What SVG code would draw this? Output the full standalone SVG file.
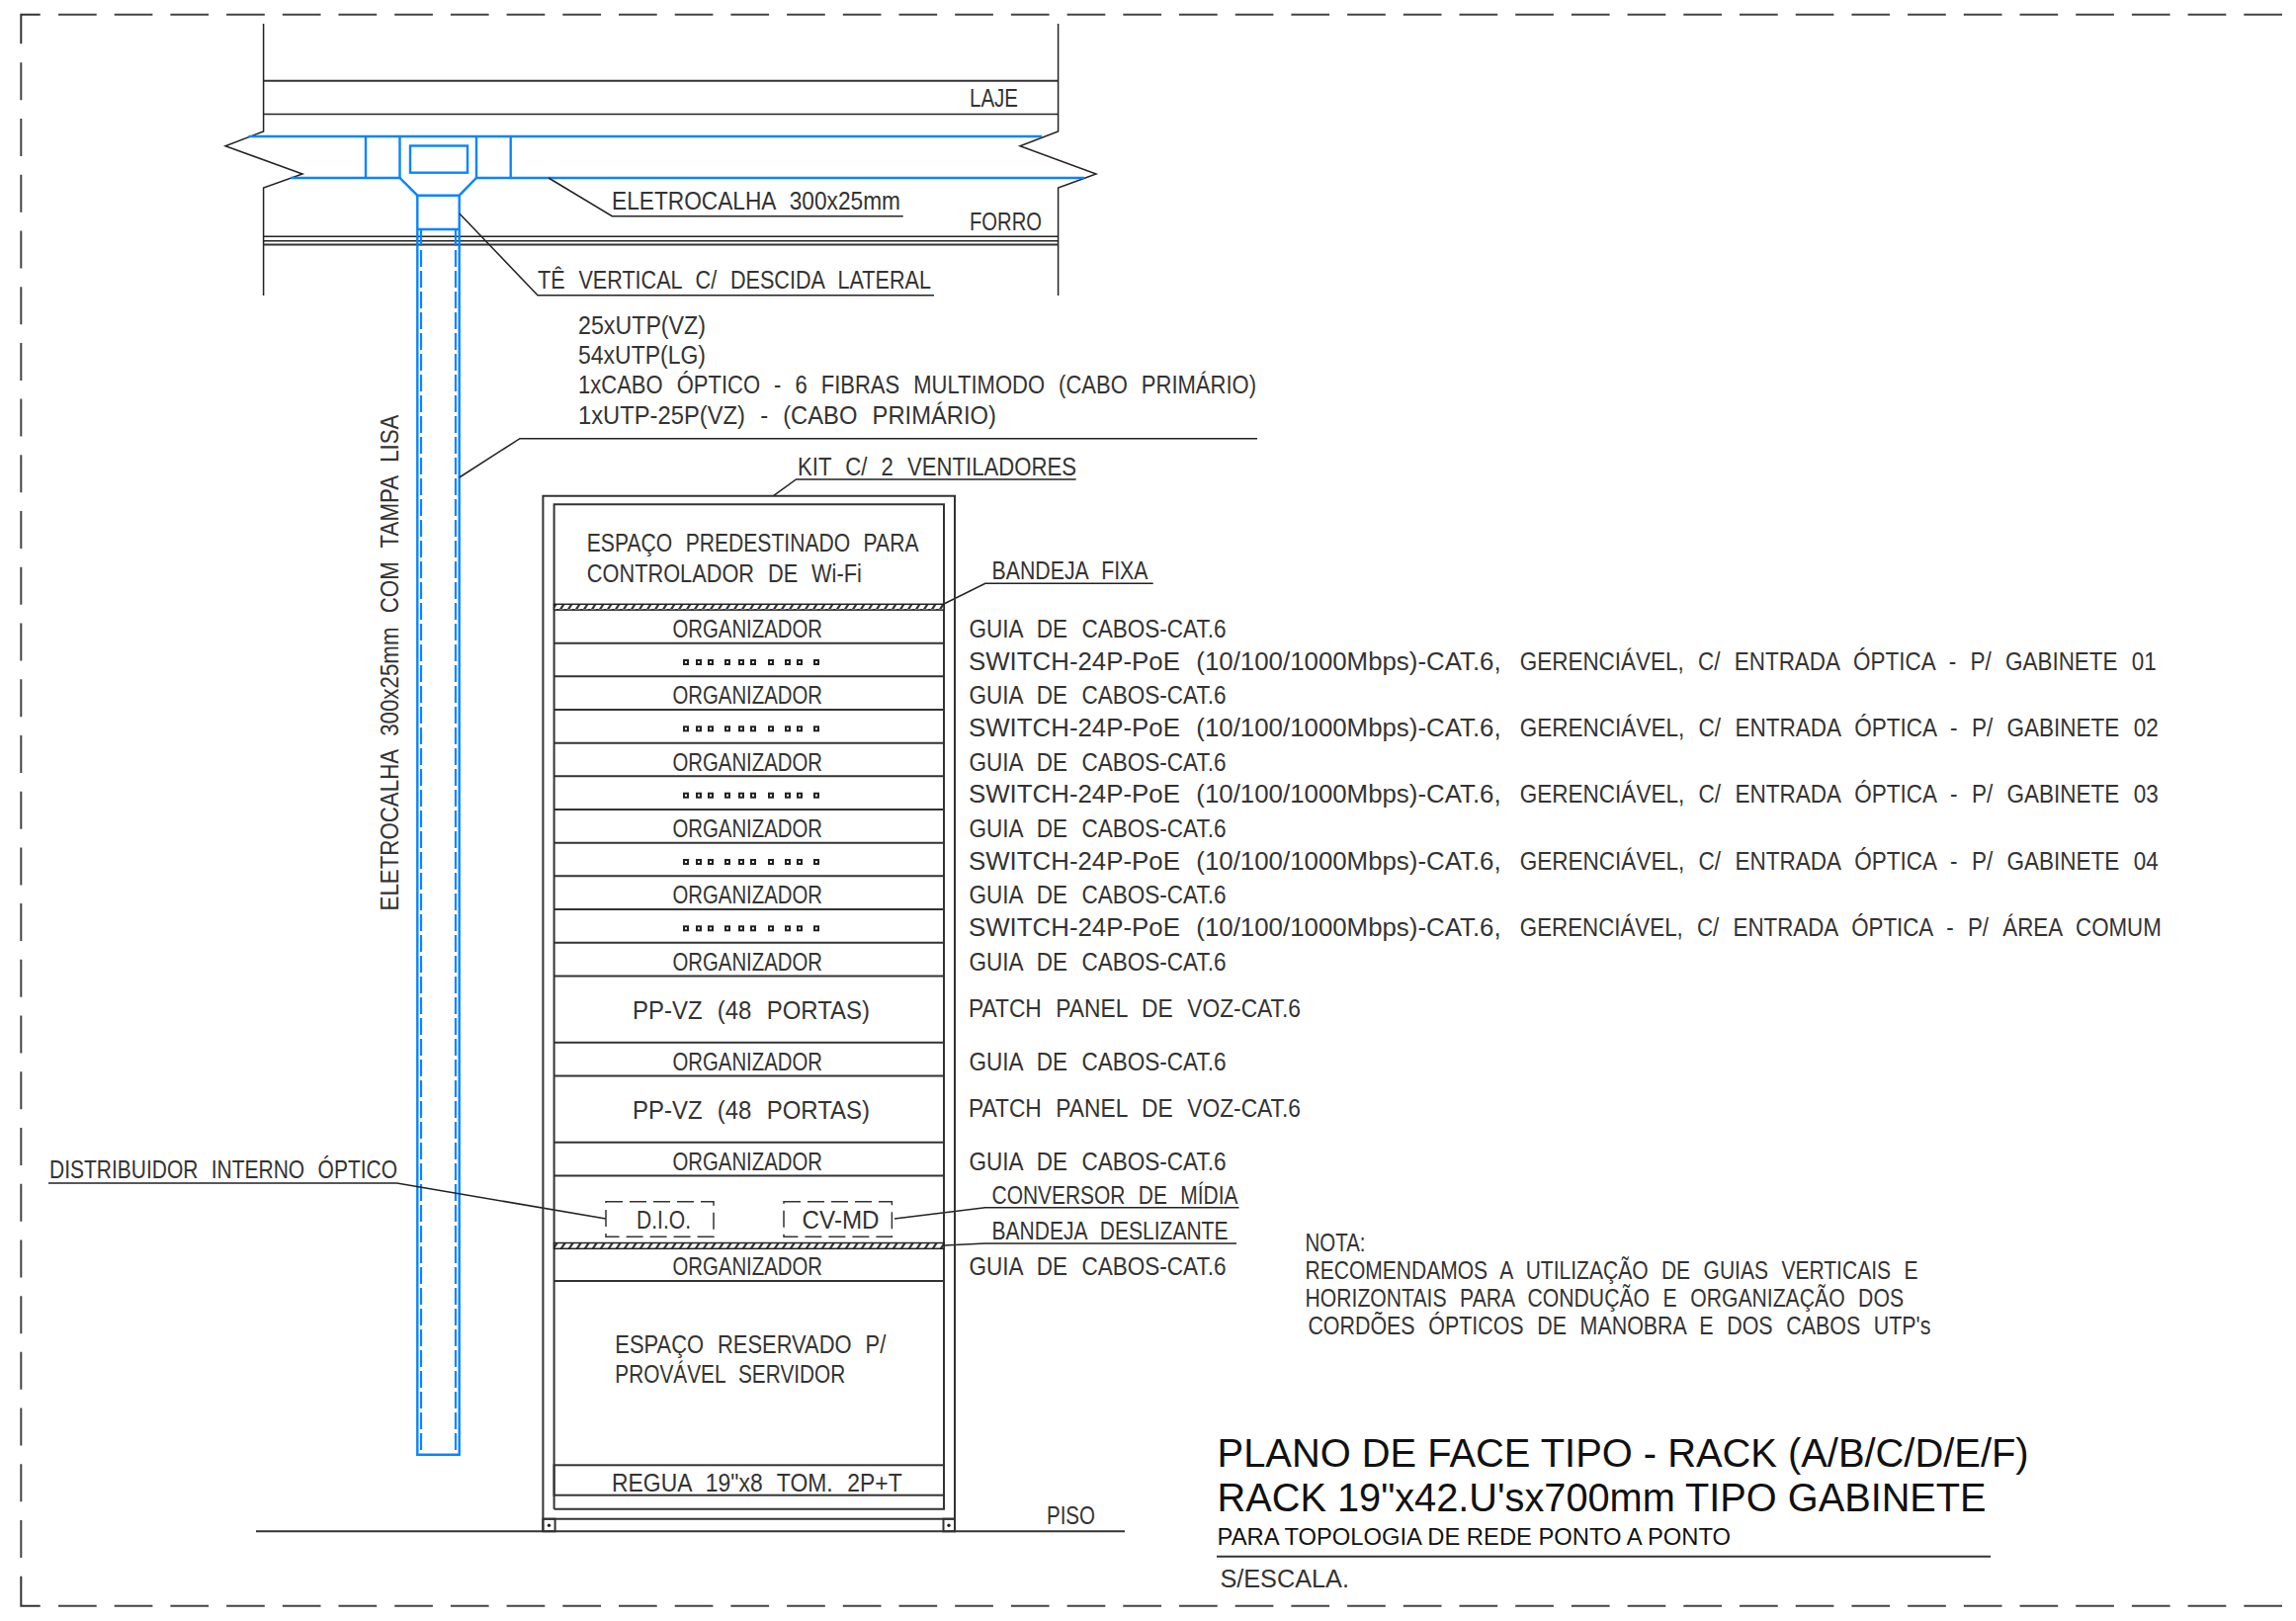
<svg xmlns="http://www.w3.org/2000/svg" width="2323" height="1640" viewBox="0 0 2323 1640">
<style>
.l{fill:none;stroke:#222;stroke-width:1.5}
.m{fill:none;stroke:#333;stroke-width:2}
.b{fill:none;stroke:#0a84ff;stroke-width:2.4}
.bd{fill:none;stroke:#0a84ff;stroke-width:2.2;stroke-dasharray:17 4}
.bf{fill:none;stroke:#444;stroke-width:2;stroke-dasharray:38.7 18}
.bv{fill:none;stroke:#444;stroke-width:2;stroke-dasharray:38 18.72}
.dd{fill:none;stroke:#333;stroke-width:1.5;stroke-dasharray:17 7}
.p{fill:none;stroke:#222;stroke-width:2}
text{font-family:"Liberation Sans",Arial,sans-serif;fill:#333}
.t,.r{font-size:25px;word-spacing:9px}
.t{transform:translateY(1px)}
.h{font-size:41px;fill:#111;transform:translateY(1px)}
.s{font-size:23px;fill:#111;transform:translateY(1px)}
</style>
<defs>
<pattern id="hatch" patternUnits="userSpaceOnUse" width="8" height="8">
<rect width="8" height="8" fill="#fff"/>
<path d="M-2 10L6 -2M6 10L14 -2" stroke="#333" stroke-width="2.2" fill="none"/>
</pattern>
<g id="ports">
<rect class="p" x="692" y="-2" width="4" height="4"/><rect class="p" x="705" y="-2" width="4" height="4"/><rect class="p" x="717" y="-2" width="4" height="4"/><rect class="p" x="734" y="-2" width="4" height="4"/><rect class="p" x="748" y="-2" width="4" height="4"/><rect class="p" x="760" y="-2" width="4" height="4"/><rect class="p" x="778" y="-2" width="4" height="4"/><rect class="p" x="795" y="-2" width="4" height="4"/><rect class="p" x="807" y="-2" width="4" height="4"/><rect class="p" x="824" y="-2" width="4" height="4"/>
</g>
</defs>
<rect width="2323" height="1640" fill="#fff"/>
<g id="border">
<path class="m" d="M40.7 14.7H21.3V44.3"/>
<path class="m" d="M40.7 1624.7H21.3V1594.7"/>
<path class="bf" d="M59 14.7H2309"/>
<path class="bf" d="M59 1624.7H2309"/>
<path class="bv" d="M21.3 63.3V1594"/>
</g>
<g id="structure">
<path class="l" d="M266.6 24V133L228 147.7L306 176L266.6 190V299"/>
<path class="l" d="M1070.6 24V133L1032 147.7L1109 176L1070.6 190V299"/>
<path class="m" d="M266.6 81.7H1070.6"/>
<path class="l" d="M266.6 115.5H1070.6M266.6 239.3H1070.6M266.6 243.7H1070.6"/>
<path class="m" d="M266.6 247.5H1070.6"/>
<text class="t" x="981" y="106.5" textLength="49" lengthAdjust="spacingAndGlyphs">LAJE</text>
<text class="t" x="981" y="232" textLength="73" lengthAdjust="spacingAndGlyphs">FORRO</text>
</g>
<g id="eletrocalha">
<path class="b" d="M251.5 138H1054M294 180H404.5L422.3 197.7H464.7L482 180H1097"/>
<path class="b" d="M370 138V180M404.5 138V180M482 138V180M516.7 138V180"/>
<rect class="b" x="415" y="147.5" width="58" height="27.2"/>
<path class="b" d="M422.3 197.7V1471.7H464.7V197.7M422.3 232H464.7"/>
<path class="bd" d="M426 232V1471.7M461 232V1471.7"/>
<text class="r" transform="translate(403 921.5) rotate(-90)" textLength="502" lengthAdjust="spacingAndGlyphs">ELETROCALHA 300x25mm COM TAMPA LISA</text>
</g>
<g id="connectors">
<path class="l" d="M555 180L619.3 218.7H913.7"/>
<path class="l" d="M464.8 216L544 298.7H945"/>
<path class="l" d="M464.8 483L526 443.7H1272"/>
<path class="l" d="M782.5 501.7L805.5 485H1088.7"/>
<path class="l" d="M955 611L996.8 590.3H1166.7"/>
<path class="l" d="M613 1233L401.5 1197H49"/>
<path class="l" d="M905 1233L996.8 1221.7H1253.5"/>
<path class="l" d="M955 1260L996.8 1258H1251"/>
</g>
<g id="labels-top">
<text class="t" x="619" y="210.7" textLength="292" lengthAdjust="spacingAndGlyphs">ELETROCALHA 300x25mm</text>
<text class="t" x="544" y="291" textLength="398" lengthAdjust="spacingAndGlyphs">TÊ VERTICAL C/ DESCIDA LATERAL</text>
<text class="t" x="585" y="336.7" textLength="129" lengthAdjust="spacingAndGlyphs">25xUTP(VZ)</text>
<text class="t" x="585" y="366.7" textLength="129" lengthAdjust="spacingAndGlyphs">54xUTP(LG)</text>
<text class="t" x="585" y="397.3" textLength="686" lengthAdjust="spacingAndGlyphs">1xCABO ÓPTICO - 6 FIBRAS MULTIMODO (CABO PRIMÁRIO)</text>
<text class="t" x="585" y="427.7" textLength="423" lengthAdjust="spacingAndGlyphs">1xUTP-25P(VZ) - (CABO PRIMÁRIO)</text>
<text class="t" x="807" y="479.5" textLength="282" lengthAdjust="spacingAndGlyphs">KIT C/ 2 VENTILADORES</text>
<text class="t" x="1003.5" y="585" textLength="158" lengthAdjust="spacingAndGlyphs">BANDEJA FIXA</text>
<text class="t" x="50" y="1191" textLength="352" lengthAdjust="spacingAndGlyphs">DISTRIBUIDOR INTERNO ÓPTICO</text>
<text class="t" x="1003.5" y="1216.7" textLength="249" lengthAdjust="spacingAndGlyphs">CONVERSOR DE MÍDIA</text>
<text class="t" x="1003.5" y="1253.3" textLength="239" lengthAdjust="spacingAndGlyphs">BANDEJA DESLIZANTE</text>
</g>
<g id="rack">
<path class="m" d="M549.4 1549.3V501.7H966V1549.3"/>
<path class="m" d="M560.6 1526.7V510.3H955V1526.7H560.6"/>
<path class="m" d="M549.4 1536.7H966"/>
<rect class="m" x="549.4" y="1536.7" width="12.2" height="12.6"/>
<rect class="m" x="954.5" y="1536.7" width="11.5" height="12.6"/>
<circle cx="555.5" cy="1543.3" r="1.7" fill="#222"/>
<circle cx="960" cy="1543.3" r="1.7" fill="#222"/>
<rect x="560.6" y="611.3" width="394.4" height="5.8" fill="url(#hatch)" stroke="#222" stroke-width="1.5"/>
<rect x="560.6" y="1257.5" width="394.4" height="5.8" fill="url(#hatch)" stroke="#222" stroke-width="1.5"/>
<path class="m" d="M560.6 650.7H955M560.6 684.3H955M560.6 718H955M560.6 751.7H955M560.6 785.3H955M560.6 819H955M560.6 852.7H955M560.6 886.3H955M560.6 920H955M560.6 953.7H955M560.6 987.4H955M560.6 1054.7H955M560.6 1088.4H955M560.6 1155.7H955M560.6 1189.4H955M560.6 1296H955"/>
<rect class="m" x="560.6" y="1482.3" width="394.4" height="30.4"/>
<g id="ports-rows">
<use href="#ports" y="670"/><use href="#ports" y="737.3"/><use href="#ports" y="804.7"/><use href="#ports" y="872"/><use href="#ports" y="939.3"/>
</g>
<rect class="dd" x="613" y="1215.7" width="109" height="35.6"/>
<rect class="dd" x="793" y="1215.7" width="109.4" height="35.6"/>
<text class="t" x="593.8" y="557.3" textLength="335.7" lengthAdjust="spacingAndGlyphs">ESPAÇO PREDESTINADO PARA</text>
<text class="t" x="593.8" y="588.3" textLength="278" lengthAdjust="spacingAndGlyphs">CONTROLADOR DE Wi-Fi</text>
<text class="t" x="680.5" y="644" textLength="151.5" lengthAdjust="spacingAndGlyphs">ORGANIZADOR</text>
<text class="t" x="680.5" y="711.3" textLength="151.5" lengthAdjust="spacingAndGlyphs">ORGANIZADOR</text>
<text class="t" x="680.5" y="778.7" textLength="151.5" lengthAdjust="spacingAndGlyphs">ORGANIZADOR</text>
<text class="t" x="680.5" y="846" textLength="151.5" lengthAdjust="spacingAndGlyphs">ORGANIZADOR</text>
<text class="t" x="680.5" y="913.3" textLength="151.5" lengthAdjust="spacingAndGlyphs">ORGANIZADOR</text>
<text class="t" x="680.5" y="980.7" textLength="151.5" lengthAdjust="spacingAndGlyphs">ORGANIZADOR</text>
<text class="t" x="640" y="1030" textLength="240" lengthAdjust="spacingAndGlyphs">PP-VZ (48 PORTAS)</text>
<text class="t" x="680.5" y="1081.7" textLength="151.5" lengthAdjust="spacingAndGlyphs">ORGANIZADOR</text>
<text class="t" x="640" y="1131" textLength="240" lengthAdjust="spacingAndGlyphs">PP-VZ (48 PORTAS)</text>
<text class="t" x="680.5" y="1182.7" textLength="151.5" lengthAdjust="spacingAndGlyphs">ORGANIZADOR</text>
<text class="t" x="644" y="1242.3" textLength="55" lengthAdjust="spacingAndGlyphs">D.I.O.</text>
<text class="t" x="811.6" y="1242.3" textLength="78" lengthAdjust="spacingAndGlyphs">CV-MD</text>
<text class="t" x="680.5" y="1289.3" textLength="151.5" lengthAdjust="spacingAndGlyphs">ORGANIZADOR</text>
<text class="t" x="622.3" y="1368.3" textLength="274" lengthAdjust="spacingAndGlyphs">ESPAÇO RESERVADO P/</text>
<text class="t" x="622.3" y="1398.3" textLength="233" lengthAdjust="spacingAndGlyphs">PROVÁVEL SERVIDOR</text>
<text class="t" x="619" y="1508" textLength="293.7" lengthAdjust="spacingAndGlyphs">REGUA 19"x8 TOM. 2P+T</text>
</g>
<g id="rack-descriptions">
<text class="t" x="980.5" y="644" textLength="260" lengthAdjust="spacingAndGlyphs">GUIA DE CABOS-CAT.6</text>
<text class="t" x="980" y="676.7" textLength="538.6" lengthAdjust="spacingAndGlyphs">SWITCH-24P-PoE (10/100/1000Mbps)-CAT.6,</text>
<text class="t" x="1537.8" y="676.7" textLength="644" lengthAdjust="spacingAndGlyphs">GERENCIÁVEL, C/ ENTRADA ÓPTICA - P/ GABINETE 01</text>
<text class="t" x="980.5" y="711.3" textLength="260" lengthAdjust="spacingAndGlyphs">GUIA DE CABOS-CAT.6</text>
<text class="t" x="980" y="744" textLength="538.6" lengthAdjust="spacingAndGlyphs">SWITCH-24P-PoE (10/100/1000Mbps)-CAT.6,</text>
<text class="t" x="1537.8" y="744" textLength="646" lengthAdjust="spacingAndGlyphs">GERENCIÁVEL, C/ ENTRADA ÓPTICA - P/ GABINETE 02</text>
<text class="t" x="980.5" y="778.7" textLength="260" lengthAdjust="spacingAndGlyphs">GUIA DE CABOS-CAT.6</text>
<text class="t" x="980" y="811.4" textLength="538.6" lengthAdjust="spacingAndGlyphs">SWITCH-24P-PoE (10/100/1000Mbps)-CAT.6,</text>
<text class="t" x="1537.8" y="811.4" textLength="646" lengthAdjust="spacingAndGlyphs">GERENCIÁVEL, C/ ENTRADA ÓPTICA - P/ GABINETE 03</text>
<text class="t" x="980.5" y="846" textLength="260" lengthAdjust="spacingAndGlyphs">GUIA DE CABOS-CAT.6</text>
<text class="t" x="980" y="878.7" textLength="538.6" lengthAdjust="spacingAndGlyphs">SWITCH-24P-PoE (10/100/1000Mbps)-CAT.6,</text>
<text class="t" x="1537.8" y="878.7" textLength="646" lengthAdjust="spacingAndGlyphs">GERENCIÁVEL, C/ ENTRADA ÓPTICA - P/ GABINETE 04</text>
<text class="t" x="980.5" y="913.3" textLength="260" lengthAdjust="spacingAndGlyphs">GUIA DE CABOS-CAT.6</text>
<text class="t" x="980" y="946" textLength="538.6" lengthAdjust="spacingAndGlyphs">SWITCH-24P-PoE (10/100/1000Mbps)-CAT.6,</text>
<text class="t" x="1537.8" y="946" textLength="649" lengthAdjust="spacingAndGlyphs">GERENCIÁVEL, C/ ENTRADA ÓPTICA - P/ ÁREA COMUM</text>
<text class="t" x="980.5" y="980.7" textLength="260" lengthAdjust="spacingAndGlyphs">GUIA DE CABOS-CAT.6</text>
<text class="t" x="980" y="1028" textLength="336" lengthAdjust="spacingAndGlyphs">PATCH PANEL DE VOZ-CAT.6</text>
<text class="t" x="980.5" y="1081.7" textLength="260" lengthAdjust="spacingAndGlyphs">GUIA DE CABOS-CAT.6</text>
<text class="t" x="980" y="1129" textLength="336" lengthAdjust="spacingAndGlyphs">PATCH PANEL DE VOZ-CAT.6</text>
<text class="t" x="980.5" y="1182.7" textLength="260" lengthAdjust="spacingAndGlyphs">GUIA DE CABOS-CAT.6</text>
<text class="t" x="980.5" y="1289.3" textLength="260" lengthAdjust="spacingAndGlyphs">GUIA DE CABOS-CAT.6</text>
</g>
<g id="floor">
<path class="m" d="M259 1549.3H1138"/>
<text class="t" x="1059" y="1541" textLength="49" lengthAdjust="spacingAndGlyphs">PISO</text>
</g>
<g id="note">
<text class="t" x="1320.5" y="1265" textLength="61" lengthAdjust="spacingAndGlyphs">NOTA:</text>
<text class="t" x="1320.5" y="1293.3" textLength="620" lengthAdjust="spacingAndGlyphs">RECOMENDAMOS A UTILIZAÇÃO DE GUIAS VERTICAIS E</text>
<text class="t" x="1320.5" y="1321" textLength="605.5" lengthAdjust="spacingAndGlyphs">HORIZONTAIS PARA CONDUÇÃO E ORGANIZAÇÃO DOS</text>
<text class="t" x="1323.4" y="1349" textLength="630" lengthAdjust="spacingAndGlyphs">CORDÕES ÓPTICOS DE MANOBRA E DOS CABOS UTP's</text>
</g>
<g id="title">
<text class="h" x="1231.6" y="1483.3" textLength="821" lengthAdjust="spacingAndGlyphs">PLANO DE FACE TIPO - RACK (A/B/C/D/E/F)</text>
<text class="h" x="1231.6" y="1527.7" textLength="778" lengthAdjust="spacingAndGlyphs">RACK 19"x42.U'sx700mm TIPO GABINETE</text>
<text class="s" x="1231.6" y="1561.7" textLength="519.5" lengthAdjust="spacingAndGlyphs">PARA TOPOLOGIA DE REDE PONTO A PONTO</text>
<path class="m" d="M1231 1574.7H2014"/>
<text class="t" x="1234.4" y="1605" textLength="130.6" lengthAdjust="spacingAndGlyphs">S/ESCALA.</text>
</g>
</svg>
